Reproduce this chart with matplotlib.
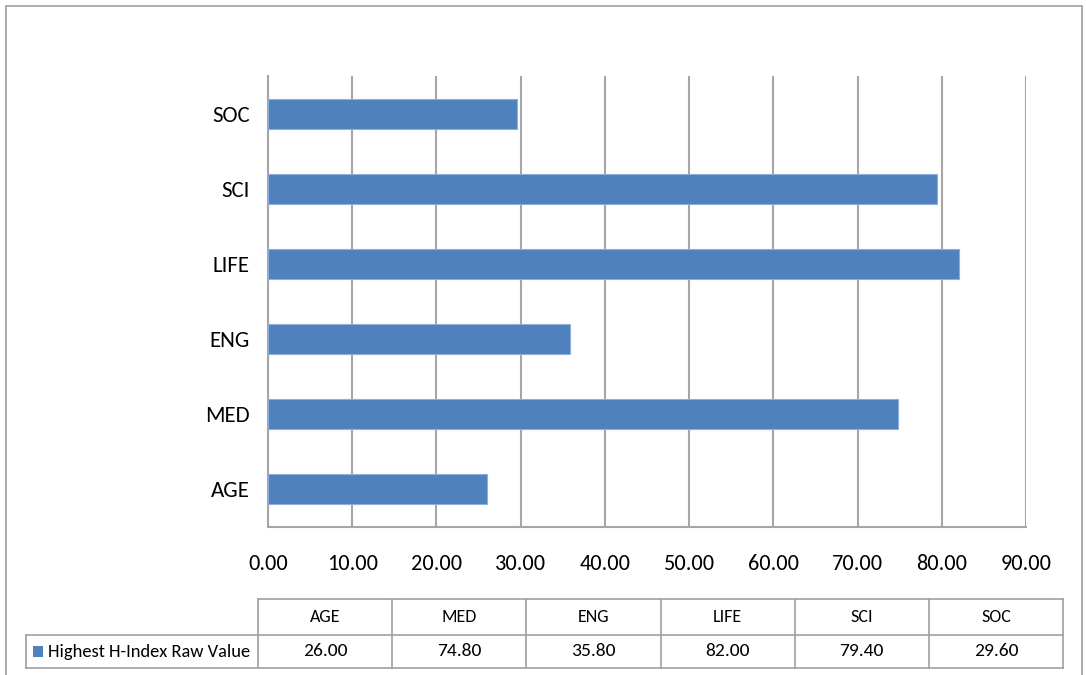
import matplotlib
matplotlib.use("Agg")
import matplotlib.pyplot as plt
from matplotlib.patches import Rectangle
from matplotlib.lines import Line2D

categories = ["AGE", "MED", "ENG", "LIFE", "SCI", "SOC"]
values = [26.00, 74.80, 35.80, 82.00, 79.40, 29.60]
series_name = "Highest H-Index Raw Value"
x_ticks = [0, 10, 20, 30, 40, 50, 60, 70, 80, 90]

BAR = "#4F81BD"
GRID = "#A6A6A6"
FONT = ["Carlito", "Lato", "DejaVu Sans"]

W, H = 1086, 675
fig = plt.figure(figsize=(W / 100, H / 100), dpi=100)

def fx(px):
    return px / W

def fy(py):
    return 1 - py / H

# outer chart frame (bottom edge runs past the canvas)
fig.patches.append(Rectangle((fx(6), fy(690)), fx(1082) - fx(6), fy(6) - fy(690),
                             transform=fig.transFigure, fill=False,
                             edgecolor="#A0A0A0", linewidth=1.2))

# bar chart
ax = fig.add_axes([fx(268), fy(527), fx(1026) - fx(268), fy(76) - fy(527)])
ypos = list(range(len(categories)))
ax.barh(ypos, values, height=0.4, color=BAR, edgecolor="#8EAEDC", linewidth=0.8, zorder=3)
ax.set_xlim(0, 90)
ax.set_ylim(-0.5, len(categories) - 0.5)
ax.set_xticks(x_ticks)
ax.set_xticklabels([f"{t:.2f}" for t in x_ticks], fontfamily=FONT, fontsize=16)
ax.set_yticks(ypos)
ax.set_yticklabels(categories, fontfamily=FONT, fontsize=16.5)
ax.tick_params(axis="x", length=0, pad=19.5)
ax.tick_params(axis="y", length=0, pad=13)
ax.grid(axis="x", color=GRID, linewidth=1.5, zorder=0)
ax.grid(axis="y", visible=False)
for side in ("top", "right"):
    ax.spines[side].set_visible(False)
for side in ("left", "bottom"):
    ax.spines[side].set_color(GRID)
    ax.spines[side].set_linewidth(1.5)

# data table below the chart
left, head_end, right = 26, 258, 1063
top, mid, bottom = 599, 635, 668
ncol = len(categories)
col_w = (right - head_end) / ncol
tc = dict(color="#A0A0A0", linewidth=1.2, transform=fig.transFigure)

fig.add_artist(Line2D([fx(head_end), fx(right)], [fy(top), fy(top)], **tc))
fig.add_artist(Line2D([fx(left), fx(right)], [fy(mid), fy(mid)], **tc))
fig.add_artist(Line2D([fx(left), fx(right)], [fy(bottom), fy(bottom)], **tc))
fig.add_artist(Line2D([fx(left), fx(left)], [fy(mid), fy(bottom)], **tc))
for i in range(ncol + 1):
    x = head_end + i * col_w
    fig.add_artist(Line2D([fx(x), fx(x)], [fy(top), fy(bottom)], **tc))

for i, (cat, val) in enumerate(zip(categories, values)):
    cx = head_end + (i + 0.5) * col_w
    fig.text(fx(cx), fy((top + mid) / 2), cat, ha="center", va="center",
             fontfamily=FONT, fontsize=13)
    fig.text(fx(cx), fy((mid + bottom) / 2), f"{val:.2f}", ha="center", va="center",
             fontfamily=FONT, fontsize=14)

# legend key in the row header
fig.patches.append(Rectangle((fx(33), fy(657)), fx(43) - fx(33), fy(646) - fy(657),
                             transform=fig.transFigure, facecolor=BAR, edgecolor="none"))
fig.text(fx(48), fy((mid + bottom) / 2), series_name, ha="left", va="center",
         fontfamily=FONT, fontsize=13.3)

fig.savefig("out.png", dpi=100, facecolor="white")
